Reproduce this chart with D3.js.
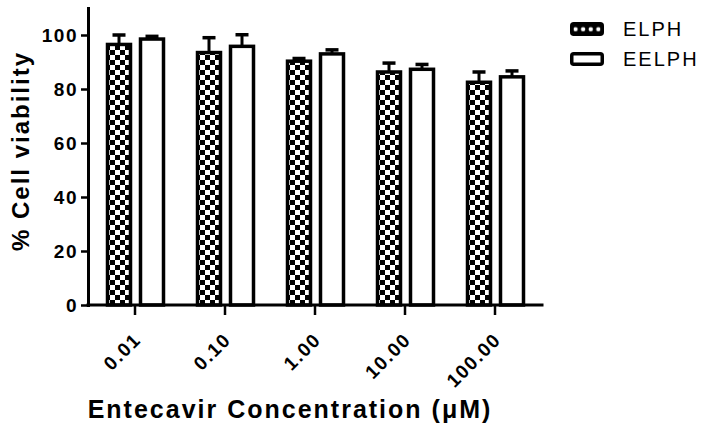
<!DOCTYPE html>
<html>
<head>
<meta charset="utf-8">
<script src="https://cdn.jsdelivr.net/npm/d3@7"></script>
<style>
  body { margin: 0; background: #fff; }
  svg { display: block; font-family: "Liberation Sans", Arial, sans-serif; }
</style>
</head>
<body>
<svg id="chart" width="707" height="433"></svg>
<script>
// values
const concentrations = ["0.01", "0.10", "1.00", "10.00", "100.00"];
const seriesNames = ["ELPH", "EELPH"];
const elphMean = [96.5, 93.5, 90.3, 86.3, 82.5];
const elphSd = [3.5, 5.5, 1.0, 3.3, 3.8];
const eelphMean = [98.5, 95.8, 93.0, 87.3, 84.5];
const eelphSd = [1.0, 4.3, 1.5, 1.8, 2.2];
const yTicks = [0, 20, 40, 60, 80, 100];

//==================== build rows ====================
let groups = concentrations.map(function(c, i) {
  return {conc: c, values: [
    {series: "ELPH", mean: elphMean[i], sd: elphSd[i]},
    {series: "EELPH", mean: eelphMean[i], sd: eelphSd[i]}
  ]};
});

let svg = d3.select("#chart");
let plot = {left: 88, right: 542, top: 8, bottom: 305};

let x = d3.scaleBand().domain(concentrations).range([90, 540]),
    sub = d3.scaleBand().domain(seriesNames).range([17.5, 73.5]).paddingInner(0.303),
    y = d3.scaleLinear().domain([0, 110]).range([plot.bottom, plot.top]);

//==================== patterns ====================
let defs = svg.append("defs");
let checker = defs.append("pattern")
  .attr("id", "checker")
  .attr("patternUnits", "userSpaceOnUse")
  .attr("width", 10).attr("height", 10);
checker.append("rect").attr("width", 10).attr("height", 10).attr("fill", "#fff");
checker.append("rect").attr("width", 5).attr("height", 5).attr("fill", "#000");
checker.append("rect").attr("x", 5).attr("y", 5).attr("width", 5).attr("height", 5).attr("fill", "#000");

let dots = defs.append("pattern")
  .attr("id", "dots")
  .attr("patternUnits", "objectBoundingBox")
  .attr("width", 0.25).attr("height", 1);
dots.append("rect").attr("width", 10).attr("height", 12).attr("fill", "#000");
dots.append("circle").attr("cx", 3.75).attr("cy", 5.5).attr("r", 2.2).attr("fill", "#fff");

let fillFor = function(s) { return s === "ELPH" ? "url(#checker)" : "#fff"; };

//==================== bars ====================
let grp = svg.append("g").selectAll(".grp")
  .data(groups)
  .enter().append("g")
    .attr("class", "grp")
    .attr("transform", function(d) { return "translate(" + x(d.conc) + ",0)"; });

// error bars (upper only), drawn first so bar top covers the stem
let err = grp.selectAll(".err")
  .data(function(d) { return d.values; })
  .enter().append("g").attr("class", "err");
err.append("line")
  .attr("x1", function(d) { return sub(d.series) + sub.bandwidth() / 2; })
  .attr("x2", function(d) { return sub(d.series) + sub.bandwidth() / 2; })
  .attr("y1", function(d) { return y(d.mean); })
  .attr("y2", function(d) { return y(d.mean + d.sd); })
  .attr("stroke", "#000").attr("stroke-width", 3);
err.append("line")
  .attr("x1", function(d) { return sub(d.series) + sub.bandwidth() / 2 - 6.5; })
  .attr("x2", function(d) { return sub(d.series) + sub.bandwidth() / 2 + 6.5; })
  .attr("y1", function(d) { return y(d.mean + d.sd); })
  .attr("y2", function(d) { return y(d.mean + d.sd); })
  .attr("stroke", "#000").attr("stroke-width", 3.5);

grp.selectAll(".bar")
  .data(function(d) { return d.values; })
  .enter().append("rect")
    .attr("class", "bar")
    .attr("x", function(d) { return sub(d.series); })
    .attr("y", function(d) { return y(d.mean); })
    .attr("width", sub.bandwidth())
    .attr("height", function(d) { return y(0) - y(d.mean); })
    .attr("fill", function(d) { return fillFor(d.series); })
    .attr("stroke", "#000")
    .attr("stroke-width", 3.5);

//==================== axes ====================
let yAxis = svg.append("g")
  .attr("transform", "translate(" + plot.left + ",0)")
  .call(d3.axisLeft(y).tickValues(yTicks).tickSize(7).tickSizeOuter(0).tickPadding(3));

let xAxis = svg.append("g")
  .attr("transform", "translate(0," + plot.bottom + ")")
  .call(d3.axisBottom(x).tickSize(10).tickSizeOuter(0));

xAxis.select(".domain").attr("d", "M" + plot.left + ",0H" + plot.right);

[yAxis, xAxis].forEach(function(a) {
  a.select(".domain").attr("stroke", "#000").attr("stroke-width", 3).attr("stroke-linecap", "square");
  a.selectAll(".tick line").attr("stroke", "#000").attr("stroke-width", 2.5);
  a.selectAll(".tick text")
    .attr("fill", "#000")
    .style("font-size", "19px")
    .style("font-weight", "bold")
    .style("letter-spacing", "1.5px")
    .style("font-family", "'Liberation Sans', Arial, sans-serif");
});

xAxis.selectAll(".tick text")
  .attr("x", 0).attr("y", 0).attr("dy", 0)
  .attr("text-anchor", "end")
  .attr("transform", "translate(7,36) rotate(-45)");

//==================== titles ====================
svg.append("text")
  .attr("transform", "translate(29,151) rotate(-90)")
  .attr("text-anchor", "middle")
  .style("font-size", "24px")
  .style("font-weight", "bold")
  .style("letter-spacing", "2px")
  .text("% Cell viability");

svg.append("text")
  .attr("x", 290)
  .attr("y", 418)
  .attr("text-anchor", "middle")
  .style("font-size", "25px")
  .style("font-weight", "bold")
  .style("letter-spacing", "2px")
  .text("Entecavir Concentration (\u03BCM)");

//==================== legend ====================
let legend = svg.selectAll(".legendItem")
  .data(seriesNames)
  .enter().append("g")
    .attr("class", "legendItem")
    .attr("transform", function(d, i) { return "translate(570," + (22 + i * 30) + ")"; });

legend.append("rect")
  .attr("x", 1.75).attr("y", 1.75)
  .attr("width", 30.5).attr("height", 10.5)
  .attr("rx", 2)
  .attr("fill", function(d) { return d === "ELPH" ? "url(#dots)" : "#fff"; })
  .attr("stroke", "#000")
  .attr("stroke-width", 3.5);

legend.append("text")
  .attr("x", 53)
  .attr("y", 14)
  .style("font-size", "20px")
  .style("letter-spacing", "2px")
  .text(function(d) { return d; });
</script>
</body>
</html>
